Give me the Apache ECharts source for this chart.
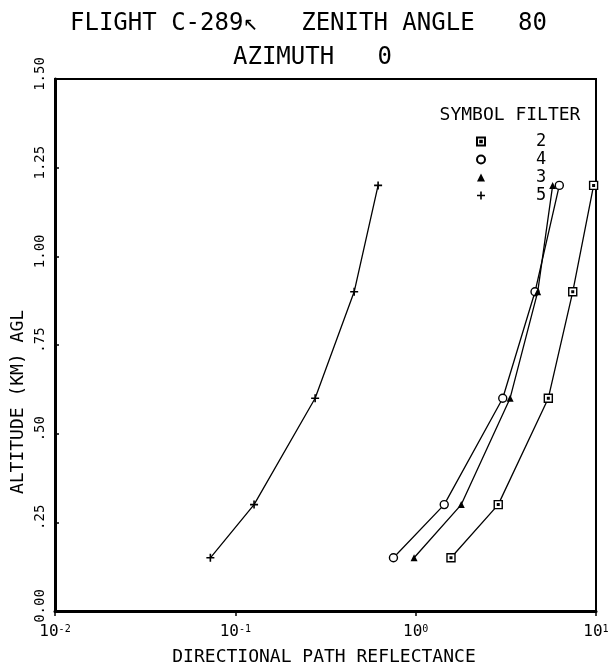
<!DOCTYPE html>
<html>
<head>
<meta charset="utf-8">
<script src="https://cdn.jsdelivr.net/npm/echarts@6/dist/echarts.min.js"></script>
<style>
  html, body { margin: 0; padding: 0; background: #fff; }
  #chart { width: 614px; height: 667px; }
</style>
</head>
<body>
<div id="chart"></div>
<script>
// Altitude (km AGL) of each measurement level
const altitudes = [0.15, 0.30, 0.60, 0.90, 1.20];

// Directional path reflectance per filter, one value per altitude
const filterNames = ['2', '4', '3', '5'];
const filter2 = [1.57, 2.87, 5.44, 7.43, 9.7];
const filter4 = [0.753, 1.44, 3.04, 4.59, 6.26];
const filter3 = [0.98, 1.79, 3.34, 4.75, 5.75];
const filter5 = [0.0727, 0.127, 0.277, 0.456, 0.619];

// Axis tick labels
const xTickExponents = ['-2', '-1', '0', '1'];
const yTickLabels = ['0.00', '.25', '.50', '.75', '1.00', '1.25', '1.50'];

const FONT = '"DejaVu Sans Mono", monospace';
const INK = '#000';

const SYMBOLS = {
  square: 'path://M0,0H10V10H0Z M4,4H6V6H4Z',
  circle: 'circle',
  triangle: 'triangle',
  plus: 'path://M4,0H6V4H10V6H6V10H4V6H0V4H4Z'
};

function pairs(xs) {
  return xs.map((x, i) => [x, altitudes[i]]);
}

function makeSeries(name, values, symbol, hollow, size) {
  return {
    name: name,
    type: 'line',
    data: pairs(values),
    symbol: symbol,
    symbolSize: size,
    showSymbol: true,
    clip: false,
    lineStyle: { color: INK, width: 1.3 },
    itemStyle: {
      color: hollow ? '#fff' : INK,
      borderColor: INK,
      borderWidth: hollow ? 1.4 : 0
    },
    emphasis: { disabled: true }
  };
}

const chart = echarts.init(document.getElementById('chart'), null, { renderer: 'canvas' });

const option = {
  animation: false,
  backgroundColor: '#fff',
  grid: {
    left: 55, right: 18, top: 79, bottom: 56,
    show: true, borderColor: INK, borderWidth: 2, backgroundColor: 'transparent'
  },
  xAxis: {
    type: 'log',
    logBase: 10,
    min: 0.01,
    max: 10,
    axisLine: { lineStyle: { color: INK, width: 3 } },
    axisTick: { length: 5, lineStyle: { color: INK, width: 1.5 } },
    minorTick: { show: true, splitNumber: 10, length: 2, lineStyle: { color: INK, width: 1 } },
    splitLine: { show: false },
    minorSplitLine: { show: false },
    axisLabel: {
      margin: 13,
      formatter: function (v) {
        const i = Math.round(Math.log10(v)) + 2;
        return '{b|10}{s|' + xTickExponents[i] + '}';
      },
      rich: {
        b: { fontFamily: FONT, fontSize: 16, color: INK },
        s: { fontFamily: FONT, fontSize: 10, color: INK, verticalAlign: 'top', padding: [0, 0, 6, 0] }
      }
    }
  },
  yAxis: {
    type: 'value',
    min: 0,
    max: 1.5,
    interval: 0.25,
    axisLine: { show: true, lineStyle: { color: INK, width: 3 } },
    axisTick: { show: true, inside: true, length: 4, lineStyle: { color: INK, width: 1.5 } },
    splitLine: { show: false },
    axisLabel: {
      rotate: 90,
      margin: 8,
      fontFamily: FONT,
      fontSize: 14,
      color: INK,
      padding: [0, 0, 0, 10],
      formatter: function (v) {
        return yTickLabels[Math.round(v / 0.25)];
      }
    }
  },
  legend: {
    orient: 'vertical',
    left: 471,
    top: 128,
    itemWidth: 8,
    itemHeight: 8,
    itemGap: 1,
    selectedMode: false,
    data: [
      { name: '2', icon: SYMBOLS.square },
      { name: '4', icon: SYMBOLS.circle },
      { name: '3', icon: SYMBOLS.triangle },
      { name: '5', icon: SYMBOLS.plus }
    ],
    textStyle: { fontFamily: FONT, fontSize: 17, lineHeight: 14, height: 14, color: INK, padding: [0, 0, 0, 46] }
  },
  series: [
    makeSeries(filterNames[0], filter2, SYMBOLS.square, true, 8),
    makeSeries(filterNames[1], filter4, SYMBOLS.circle, true, 8),
    makeSeries(filterNames[2], filter3, SYMBOLS.triangle, false, 7),
    makeSeries(filterNames[3], filter5, SYMBOLS.plus, false, 8)
  ],
  graphic: [
    {
      type: 'text', x: 70, y: 24,
      style: { text: 'FLIGHT C-289\u2196   ZENITH ANGLE   80', font: '24px ' + FONT, fill: INK, textAlign: 'left', textVerticalAlign: 'middle' }
    },
    {
      type: 'text', x: 233, y: 58,
      style: { text: 'AZIMUTH   0', font: '24px ' + FONT, fill: INK, textAlign: 'left', textVerticalAlign: 'middle' }
    },
    {
      type: 'text', x: 510, y: 115,
      style: { text: 'SYMBOL FILTER', font: '18px ' + FONT, fill: INK, textAlign: 'center', textVerticalAlign: 'middle' }
    },
    {
      type: 'text', x: 324, y: 657,
      style: { text: 'DIRECTIONAL PATH REFLECTANCE', font: '18px ' + FONT, fill: INK, textAlign: 'center', textVerticalAlign: 'middle' }
    },
    {
      type: 'text', x: 18, y: 402, rotation: Math.PI / 2,
      style: { text: 'ALTITUDE (KM) AGL', font: '18px ' + FONT, fill: INK, textAlign: 'center', textVerticalAlign: 'middle' }
    }
  ]
};

chart.setOption(option);
</script>
</body>
</html>
